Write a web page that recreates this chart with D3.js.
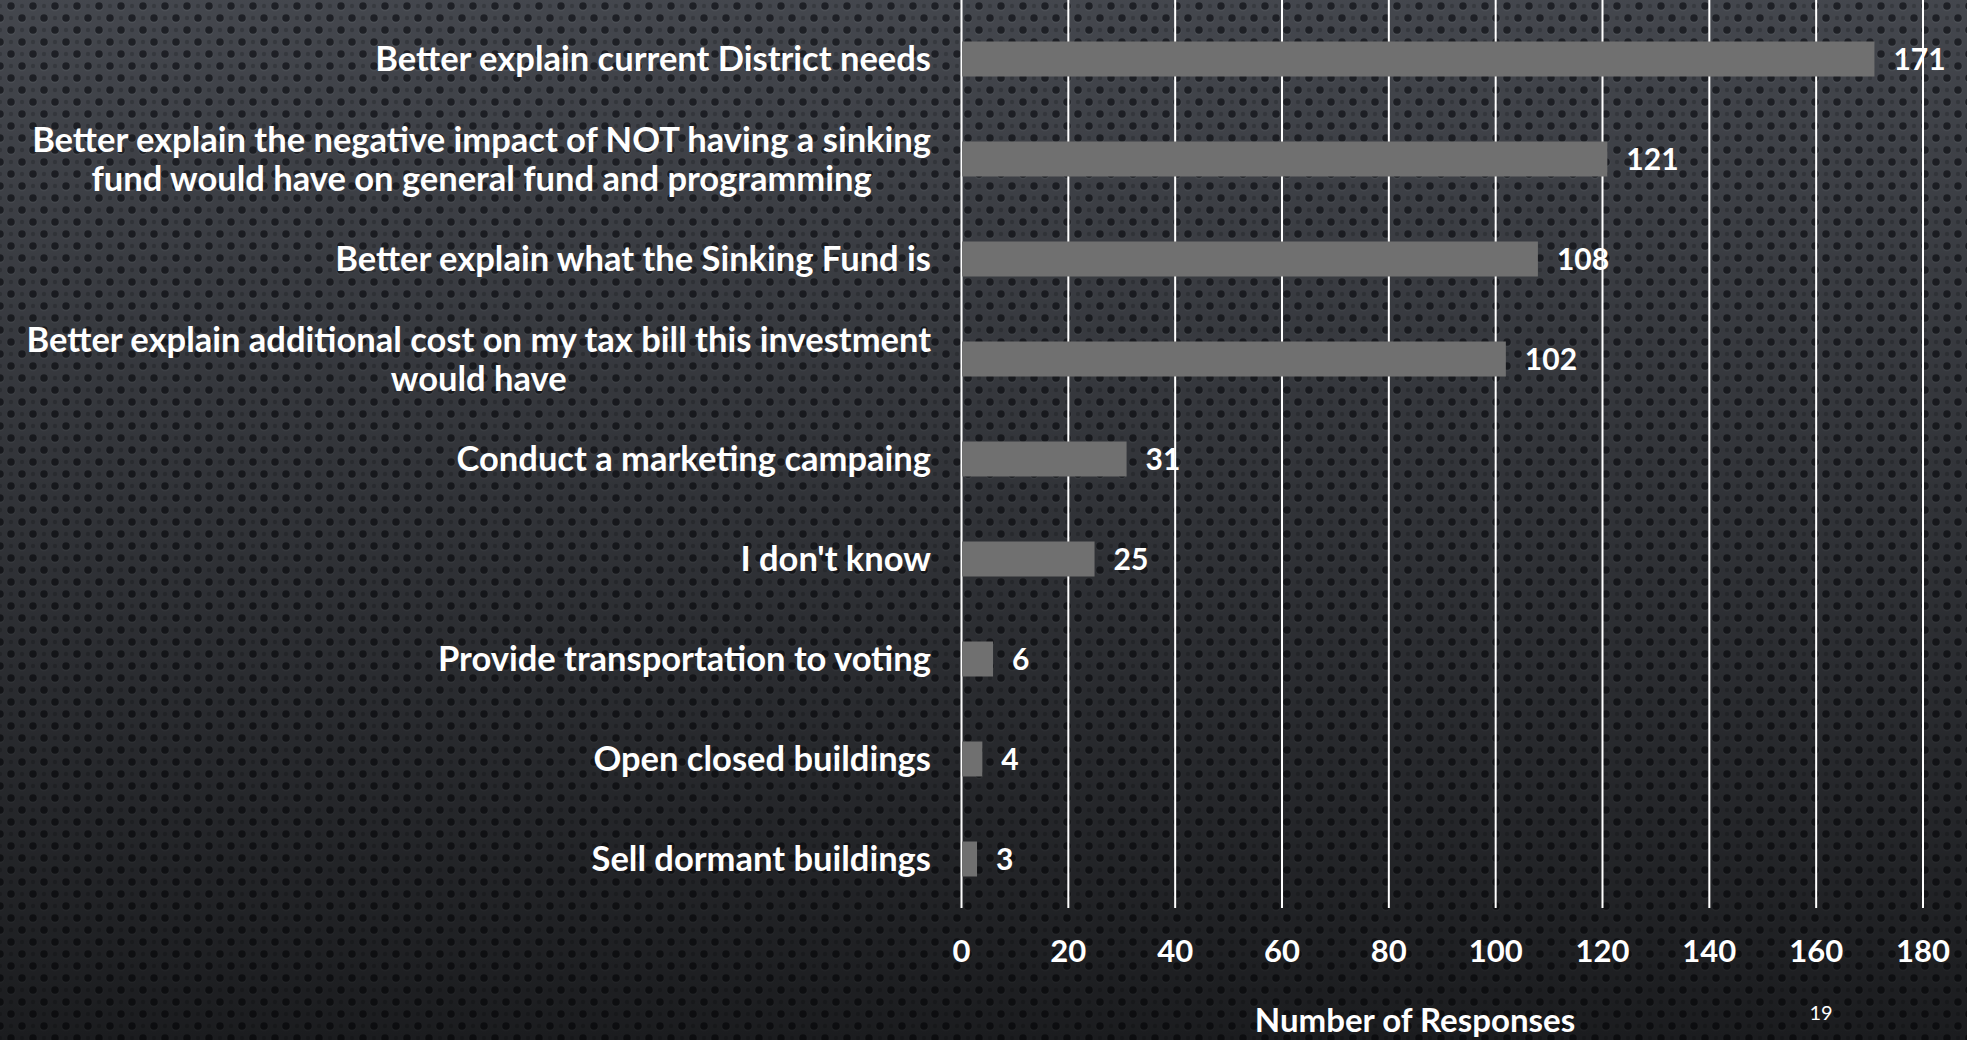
<!DOCTYPE html>
<html>
<head>
<meta charset="utf-8">
<script src="https://cdn.jsdelivr.net/npm/d3@7"></script>
<style>
  html, body { margin: 0; padding: 0; background: #2a2c31; overflow: hidden; }
  svg { display: block; }
  text { font-family: "Lato", "Open Sans", sans-serif; font-weight: 700; fill: #ffffff; }
</style>
</head>
<body>
<script>
// ---- data ----
const categories = [
  "Better explain current District needs",
  "Better explain the negative impact of NOT having a sinking\nfund would have on general fund and programming",
  "Better explain what the Sinking Fund is",
  "Better explain additional cost on my tax bill this investment\nwould have",
  "Conduct a marketing campaing",
  "I don't know",
  "Provide transportation to voting",
  "Open closed buildings",
  "Sell dormant buildings"
];
const values = [171, 121, 108, 102, 31, 25, 6, 4, 3];
const tickValues = [0, 20, 40, 60, 80, 100, 120, 140, 160, 180];
const axisTitle = "Number of Responses";
const pageNumber = "19";

// ---- layout ----
const W = 1967, H = 1040;
const svg = d3.select("body").append("svg").attr("width", W).attr("height", H);
const defs = svg.append("defs");

// background: dotted texture + vertical darkening
const pat = defs.append("pattern").attr("id", "dots").attr("patternUnits", "userSpaceOnUse")
  .attr("width", 22).attr("height", 24);
pat.append("rect").attr("width", 22).attr("height", 24).attr("fill", "#474a51");
[[11, 6], [0, 18], [22, 18]].forEach(([cx, cy]) => {
  pat.append("circle").attr("cx", cx).attr("cy", cy + 0.8).attr("r", 4.4).attr("fill", "#5a5d64").attr("opacity", 0.5);
  pat.append("circle").attr("cx", cx).attr("cy", cy).attr("r", 3.8).attr("fill", "#202228");
});
[[0, 6], [22, 6], [11, 18]].forEach(([cx, cy]) => {
  pat.append("circle").attr("cx", cx).attr("cy", cy).attr("r", 2.2).attr("fill", "#3a3d43");
});
const grad = defs.append("linearGradient").attr("id", "shade").attr("x1", 0).attr("y1", 0).attr("x2", 0).attr("y2", 1);
grad.append("stop").attr("offset", "0%").attr("stop-color", "#000").attr("stop-opacity", 0.05);
grad.append("stop").attr("offset", "55%").attr("stop-color", "#000").attr("stop-opacity", 0.35);
grad.append("stop").attr("offset", "100%").attr("stop-color", "#000").attr("stop-opacity", 0.62);
svg.append("rect").attr("width", W).attr("height", H).attr("fill", "url(#dots)");
svg.append("rect").attr("width", W).attr("height", H).attr("fill", "url(#shade)");

// scales
const x = d3.scaleLinear().domain([0, 180]).range([961, 1922.5]);
const y = d3.scaleBand().domain(categories).range([9, 909]).paddingInner(0.65).paddingOuter(0.325);
const plotTop = 0, plotBottom = 908;

// gridlines (via axis)
const gridAxis = d3.axisBottom(x).tickValues(tickValues).tickSize(-(plotBottom - plotTop)).tickFormat("");
const grid = svg.append("g").attr("transform", `translate(0,${plotBottom})`).call(gridAxis);
grid.select(".domain").remove();
grid.selectAll(".tick line").attr("stroke", "#ffffff").attr("stroke-width", 2);

// bars
svg.append("g").selectAll("rect").data(values).join("rect")
  .attr("x", x(0) + 1)
  .attr("y", (d, i) => y(categories[i]))
  .attr("width", d => x(d) - x(0) - 1)
  .attr("height", y.bandwidth())
  .attr("fill", "#707070");

// value labels
svg.append("g").selectAll("text").data(values).join("text")
  .attr("x", d => x(d) + 19)
  .attr("y", (d, i) => y(categories[i]) + y.bandwidth() / 2)
  .attr("dy", "0.36em")
  .attr("font-size", 30)
  .text(d => d);

// tick labels
const tickAxis = d3.axisBottom(x).tickValues(tickValues).tickSize(0).tickPadding(0);
const tl = svg.append("g").attr("transform", `translate(0,${plotBottom})`).call(tickAxis);
tl.select(".domain").remove();
tl.selectAll(".tick text")
  .attr("y", 43).attr("dy", "0.36em")
  .attr("font-size", 31).attr("fill", "#ffffff")
  .style("font-family", "Lato, sans-serif").style("font-weight", 700);

// category labels
const labelRight = 931;
const catG = svg.append("g");
categories.forEach((c, i) => {
  const lines = c.split("\n");
  const cy = y(c) + y.bandwidth() / 2;
  const lh = 39;
  const t = catG.append("text").attr("font-size", 34.5);
  lines.forEach((ln, j) => {
    t.append("tspan").attr("y", cy + (j - (lines.length - 1) / 2) * lh).attr("dy", "0.36em").text(ln);
  });
  const tspans = t.selectAll("tspan").nodes();
  const widths = tspans.map(n => n.getComputedTextLength());
  const maxW = d3.max(widths);
  const center = labelRight - maxW / 2;
  t.attr("text-anchor", "middle");
  tspans.forEach(n => n.setAttribute("x", center));
});

// axis title
svg.append("text").attr("x", 1415).attr("y", 1032).attr("text-anchor", "middle")
  .attr("font-size", 33).text(axisTitle);

// page number
svg.append("text").attr("x", 1821).attr("y", 1020).attr("text-anchor", "middle")
  .attr("font-size", 20).style("font-weight", 400).attr("fill", "#a9a9a9").text(pageNumber);
</script>
</body>
</html>
